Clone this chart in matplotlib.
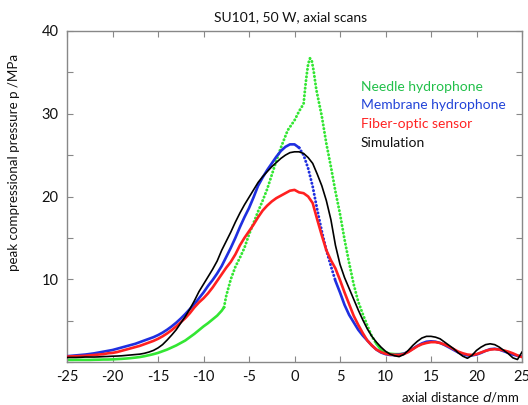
import numpy as np
import matplotlib
matplotlib.use("Agg")
import matplotlib.pyplot as plt
from matplotlib.ticker import MultipleLocator, FuncFormatter

plt.rcParams['font.family'] = ['Lato', 'DejaVu Sans']

# ---------------- data ----------------
x_common = [-25, -24.5, -24, -23.5, -23, -22.5, -22, -21.5, -21, -20.5,
            -20, -19.5, -19, -18.5, -18, -17.5, -17, -16.5, -16, -15.5,
            -15, -14.5, -14, -13.5, -13, -12.5, -12, -11.5, -11, -10.5,
            -10, -9.5, -9, -8.5, -8, -7.5, -7, -6.5, -6, -5.5,
            -5, -4.5, -4, -3.5, -3, -2.5, -2, -1.5, -1, -0.5,
            0, 0.5, 1, 1.5, 2, 2.5, 3, 3.5, 4, 4.5,
            5, 5.5, 6, 6.5, 7, 7.5, 8, 8.5, 9, 9.5,
            10, 10.5, 11, 11.5, 12, 12.5, 13, 13.5, 14, 14.5,
            15, 15.5, 16, 16.5, 17, 17.5, 18, 18.5, 19, 19.5,
            20, 20.5, 21, 21.5, 22, 22.5, 23, 23.5, 24, 24.5, 25]

membrane = [0.7, 0.75, 0.8, 0.85, 0.9, 0.97, 1.05, 1.15, 1.25, 1.35,
            1.45, 1.6, 1.75, 1.9, 2.05, 2.2, 2.4, 2.6, 2.8, 3.0,
            3.25, 3.55, 3.9, 4.3, 4.75, 5.25, 5.8, 6.4, 7.0, 7.7,
            8.4, 9.2, 9.9, 10.7, 11.6, 12.7, 13.8, 15.0, 16.3, 17.5,
            18.6, 19.9, 21.3, 22.3, 23.2, 24.0, 24.8, 25.5, 26.0, 26.3,
            26.3, 25.9, 25.0, 23.4, 21.2, 18.4, 15.8, 13.5, 11.6, 9.8,
            8.4, 6.9, 5.7, 4.8, 3.9, 3.2, 2.6, 2.0, 1.5, 1.15,
            0.95, 0.85, 0.85, 0.9, 1.0, 1.25, 1.6, 1.95, 2.25, 2.45,
            2.5, 2.45, 2.3, 2.05, 1.75, 1.45, 1.15, 0.95, 0.8, 0.8,
            0.9, 1.1, 1.35, 1.55, 1.6, 1.5, 1.3, 1.1, 0.9, 0.75, 0.65]

fiber = [0.65, 0.68, 0.7, 0.72, 0.75, 0.8, 0.85, 0.9, 0.95, 1.05,
         1.1, 1.2, 1.35, 1.5, 1.65, 1.8, 1.95, 2.15, 2.35, 2.55,
         2.8, 3.1, 3.45, 3.85, 4.3, 4.8, 5.3, 5.9, 6.6, 7.2,
         7.7, 8.3, 9.0, 9.8, 10.6, 11.4, 12.1, 13.0, 14.1, 15.0,
         15.8, 16.6, 17.5, 18.3, 18.9, 19.4, 19.8, 20.1, 20.4, 20.7,
         20.8, 20.5, 20.4, 20.0, 19.2, 17.2, 15.3, 13.5, 12.3, 11.3,
         9.9, 8.4, 7.0, 5.6, 4.5, 3.5, 2.6, 2.0, 1.5, 1.2,
         1.0, 0.9, 0.85, 0.85, 0.95, 1.2, 1.55, 1.9, 2.15, 2.3,
         2.4, 2.4, 2.3, 2.1, 1.85, 1.55, 1.25, 1.05, 0.9, 0.85,
         0.95, 1.15, 1.35, 1.5, 1.55, 1.5, 1.4, 1.25, 1.05, 0.8, 0.6]

simulation = [0.55, 0.55, 0.55, 0.57, 0.6, 0.6, 0.6, 0.62, 0.65, 0.67,
              0.7, 0.72, 0.75, 0.8, 0.85, 0.9, 0.95, 1.05, 1.2, 1.4,
              1.7, 2.1, 2.65, 3.25, 3.9, 4.7, 5.5, 6.4, 7.4, 8.5,
              9.4, 10.3, 11.2, 12.2, 13.5, 14.6, 15.7, 16.9, 18.0, 19.0,
              19.9, 20.8, 21.7, 22.4, 23.0, 23.6, 24.1, 24.6, 25.0, 25.3,
              25.4, 25.4, 25.2, 24.7, 24.0, 22.7, 21.3, 19.5, 17.2, 14.1,
              11.8, 10.2, 8.9, 7.6, 6.3, 5.1, 4.0, 3.1, 2.4, 1.8,
              1.3, 0.95, 0.75, 0.65, 0.9, 1.4, 2.0, 2.5, 2.9, 3.1,
              3.1, 3.0, 2.8, 2.4, 2.0, 1.6, 1.1, 0.7, 0.45, 0.8,
              1.4, 1.8, 2.1, 2.2, 2.1, 1.8, 1.4, 1.0, 0.5, 0.3, 1.2]

x_needle = [-25, -24.5, -24, -23.5, -23, -22.5, -22, -21.5, -21, -20.5,
            -20, -19.5, -19, -18.5, -18, -17.5, -17, -16.5, -16, -15.5,
            -15, -14.5, -14, -13.5, -13, -12.5, -12, -11.5, -11, -10.5,
            -10, -9.5, -9, -8.5, -8, -7.75, -7.5, -7, -6.5, -6, -5.5,
            -5, -4.5, -4, -3.5, -3, -2.5, -2, -1.5, -1, -0.75, -0.5,
            0, 0.5, 1.0, 1.2, 1.35, 1.5, 1.7, 1.9, 2.1, 2.4, 2.7,
            3.0, 3.5, 4.0, 4.5, 5.0, 5.5, 6.0, 6.5, 7.0, 7.5, 8.0,
            8.5, 9.0, 9.5, 10.0, 10.5, 11.0, 11.5, 12.0]
needle = [0.25, 0.25, 0.25, 0.25, 0.25, 0.25, 0.27, 0.28, 0.3, 0.3,
          0.32, 0.35, 0.38, 0.42, 0.47, 0.53, 0.6, 0.7, 0.82, 0.95,
          1.1, 1.3, 1.5, 1.75, 2.0, 2.3, 2.6, 3.0, 3.4, 3.85,
          4.3, 4.7, 5.15, 5.6, 6.2, 6.6, 8.0, 10.0, 11.5, 12.6, 13.8,
          15.4, 16.8, 18.2, 19.5, 20.9, 22.6, 24.3, 25.9, 27.3, 28.0, 28.4,
          29.2, 30.3, 31.2, 33.4, 34.8, 36.0, 36.7, 36.4, 35.2, 32.9, 31.3,
          29.7, 26.4, 23.6, 20.6, 17.9, 14.8, 12.0, 9.4, 7.3, 5.8, 4.4,
          3.1, 2.2, 1.5, 1.15, 1.0, 0.95, 0.95, 1.0]

series_labels = ["Needle hydrophone", "Membrane hydrophone",
                 "Fiber-optic sensor", "Simulation"]

# ---------------- figure ----------------
fig = plt.figure(figsize=(5.28, 4.05), dpi=100)
ax = fig.add_axes([67/528, 43/405, 455/528, 331/405])

c_green = '#33e633'
c_blue = '#1f2fe0'
c_red = '#ff2020'

xn = np.array(x_needle)
yn = np.array(needle)
solid_l = xn <= -7.75
dotted = (xn >= -7.75) & (xn <= 9.0)
solid_r = xn >= 9.0
dot_style = dict(linestyle=(0, (0.1, 1.2)), dash_capstyle='round')
ax.plot(xn[solid_l], yn[solid_l], color=c_green, lw=1.9, zorder=2)
ax.plot(xn[dotted], yn[dotted], color=c_green, lw=2.1, zorder=2, **dot_style)
ax.plot(xn[solid_r], yn[solid_r], color=c_green, lw=1.9, zorder=2)

xc = np.array(x_common)
ym = np.array(membrane)
m_a = xc <= 0.5
m_b = (xc >= 0.5) & (xc <= 4.5)
m_c = xc >= 4.5
ax.plot(xc[m_a], ym[m_a], color=c_blue, lw=1.9, zorder=3)
ax.plot(xc[m_b], ym[m_b], color=c_blue, lw=2.1, zorder=3, **dot_style)
ax.plot(xc[m_c], ym[m_c], color=c_blue, lw=1.9, zorder=3)

ax.plot(x_common, fiber, color=c_red, lw=1.9, zorder=4)
ax.plot(x_common, simulation, color='black', lw=1.2, zorder=5)

ax.set_xlim(-25, 25)
ax.set_ylim(0, 40)
ax.xaxis.set_major_locator(MultipleLocator(5))
ax.yaxis.set_major_locator(MultipleLocator(5))
ax.yaxis.set_major_formatter(FuncFormatter(
    lambda v, p: f"{int(v)}" if (v > 0 and int(round(v)) % 10 == 0) else ""))
ax.xaxis.set_major_formatter(FuncFormatter(lambda v, p: f"{int(v)}"))
ax.tick_params(direction='in', length=4, width=0.8, color='#888888',
               top=True, right=True, labelsize=10.5, labelcolor='#111111',
               pad=6)
for s in ax.spines.values():
    s.set_color('#888888')
    s.set_linewidth(1.0)

fig.text(291/528, 1 - 17/405, "SU101, 50 W, axial scans", ha='center',
         va='center', fontsize=10, color='#111111')

fig.text(14/528, 1 - 162/405, "peak compressional pressure p /MPa",
         rotation=90, ha='center', va='center', fontsize=9.6,
         color='#111111')
fig.text(520/528, 1 - 397/405, r"axial distance $\it{d}$/mm", ha='right',
         va='center', fontsize=9.5, color='#111111')

leg_colors = ['#22c04a', '#2244d8', '#ff2222', '#111111']
leg_y = [87, 105, 124, 143]
for lab, col, yy in zip(series_labels, leg_colors, leg_y):
    fig.text(361/528, 1 - yy/405, lab, ha='left', va='center',
             fontsize=10, color=col)

fig.savefig("out.png", dpi=100)
